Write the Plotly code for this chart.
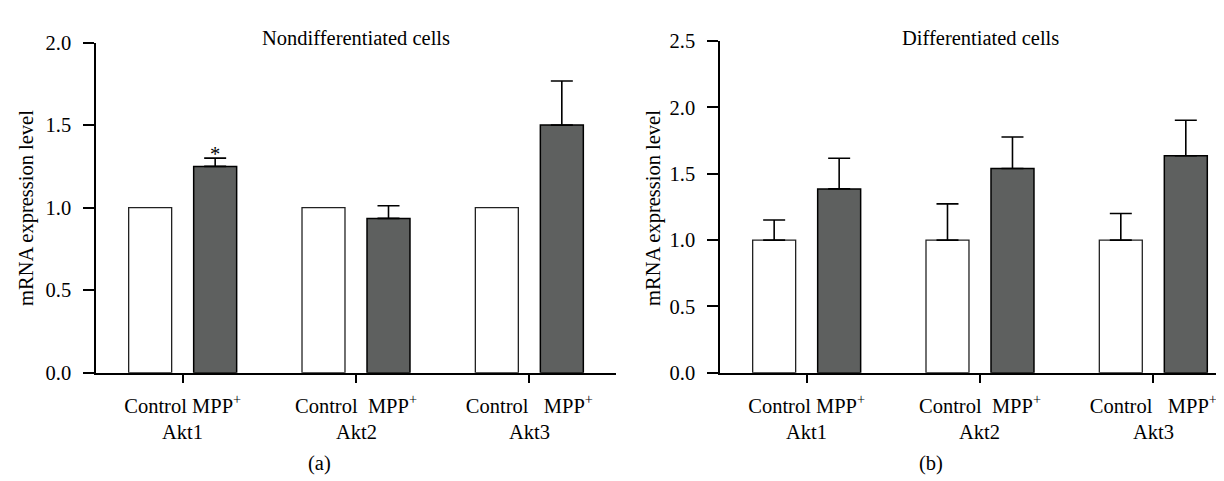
import plotly.graph_objects as go

# ---------------- data ----------------
genes = ["Akt1", "Akt2", "Akt3"]
condition_labels = ["Control\u00a0MPP<sup>+</sup>",
                    "Control\u00a0\u00a0MPP<sup>+</sup>",
                    "Control\u00a0\u00a0\u00a0MPP<sup>+</sup>"]
panel_titles = ["Nondifferentiated cells", "Differentiated cells"]
panel_letters = ["(a)", "(b)"]
y_title = "mRNA expression level"

nd_control = [1.0, 1.0, 1.0]
nd_mpp = [1.25, 0.935, 1.50]
nd_mpp_err = [0.05, 0.077, 0.267]

d_control = [1.0, 1.0, 1.0]
d_control_err = [0.151, 0.273, 0.201]
d_mpp = [1.386, 1.540, 1.636]
d_mpp_err = [0.231, 0.237, 0.268]

significance = ["*", "", ""]  # nondifferentiated MPP+ vs control

# ---------------- style ----------------
W, H = 1224, 481
FONT = "Liberation Serif"
FS = 20.5
DARK = "#5e605f"
BAR_W = 0.248
OFF = 0.1875
xpos = list(range(len(genes)))

fig = go.Figure()


def add_pair(ctrl, ctrl_err, mpp, mpp_err, xa, ya):
    ctrl_kw = {}
    if ctrl_err is not None:
        ctrl_kw = dict(error_y=dict(type="data", symmetric=False, array=ctrl_err,
                                    arrayminus=[0] * len(ctrl_err), color="black",
                                    thickness=1.6, width=11))
    fig.add_trace(go.Bar(x=xpos, y=ctrl, width=BAR_W, offset=-OFF - BAR_W / 2,
                         marker=dict(color="white", line=dict(color="#222222", width=1.3)),
                         xaxis=xa, yaxis=ya, showlegend=False, **ctrl_kw))
    fig.add_trace(go.Bar(x=xpos, y=mpp, width=BAR_W, offset=OFF - BAR_W / 2,
                         marker=dict(color=DARK, line=dict(color="black", width=1.5)),
                         error_y=dict(type="data", symmetric=False, array=mpp_err,
                                      arrayminus=[0] * len(mpp_err), color="black",
                                      thickness=1.6, width=11),
                         xaxis=xa, yaxis=ya, showlegend=False))


add_pair(nd_control, None, nd_mpp, nd_mpp_err, "x", "y")
add_pair(d_control, d_control_err, d_mpp, d_mpp_err, "x2", "y2")

axis_common = dict(showline=True, linecolor="black", linewidth=1.5, ticks="outside",
                   tickcolor="black", tickwidth=1.5, showgrid=False, zeroline=False,
                   tickfont=dict(family=FONT, size=FS, color="black"))

ybot = 1 - 370.7 / H
fig.update_layout(
    width=W, height=H, margin=dict(l=0, r=0, t=0, b=0),
    paper_bgcolor="white", plot_bgcolor="white", barmode="overlay",
    xaxis=dict(domain=[88 / W, 608 / W], range=[-0.5, 2.5], tickvals=xpos,
               ticktext=condition_labels, ticklen=9, ticklabelstandoff=5,
               anchor="y", **axis_common),
    yaxis=dict(domain=[ybot, 1 - 24.7 / H], range=[0, 2.0], dtick=0.5, tickformat=".1f",
               ticklen=11, ticklabelstandoff=8, anchor="x", **axis_common),
    xaxis2=dict(domain=[712 / W, 1.0], range=[-0.5, 2.454], tickvals=xpos,
                ticktext=condition_labels, ticklen=9, ticklabelstandoff=5,
                anchor="y2", **axis_common),
    yaxis2=dict(domain=[ybot, 1 - 23.2 / H], range=[0, 2.5], dtick=0.5, tickformat=".1f",
                ticklen=11, ticklabelstandoff=8, anchor="x2", **axis_common),
)

font = dict(family=FONT, size=FS, color="black")
ann = []
for xr, cx, px_title, px_letter, title, letter in [
        ("x", 19, 348, 311, panel_titles[0], panel_letters[0]),
        ("x2", 646, 972, 923, panel_titles[1], panel_letters[1])]:
    ann.append(dict(text=y_title, xref="paper", yref="paper", x=cx / W, y=1 - 198 / H,
                    textangle=-90, showarrow=False, font=font,
                    xanchor="center", yanchor="middle"))
    ann.append(dict(text=title, xref="paper", yref="paper", x=px_title / W, y=1 - 19.5 / H,
                    showarrow=False, font=font, xanchor="center", yanchor="middle"))
    ann.append(dict(text=letter, xref="paper", yref="paper", x=px_letter / W, y=1 - 466 / H,
                    showarrow=False, font=font, xanchor="center", yanchor="middle"))
    for i, g in enumerate(genes):
        ann.append(dict(text=g, xref=xr, yref="paper", x=i, y=1 - 433 / H,
                        showarrow=False, font=font, xanchor="center", yanchor="middle"))

for i, s in enumerate(significance):
    if s:
        ann.append(dict(text=s, xref="x", yref="y", x=i + OFF,
                        y=nd_mpp[i] + nd_mpp_err[i] + 0.025,
                        showarrow=False, font=font, xanchor="center", yanchor="middle"))

fig.update_layout(annotations=ann)
fig.write_html("out.html")
